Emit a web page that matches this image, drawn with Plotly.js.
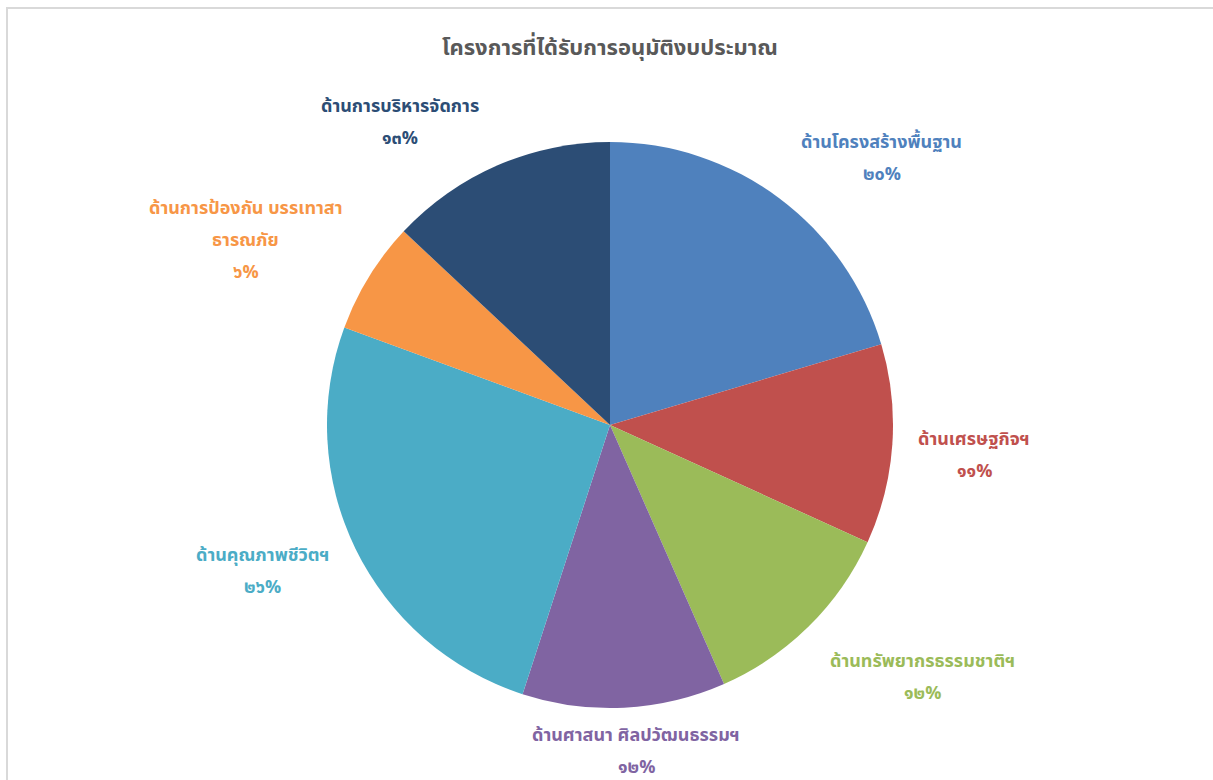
<!DOCTYPE html>
<html>
<head>
<meta charset="utf-8">
<script src="https://cdn.plot.ly/plotly-3.0.1.min.js"></script>
<style>
  html, body { margin: 0; padding: 0; background: #ffffff; overflow: hidden; }
  #frame { position: absolute; left: 6px; top: 7px; width: 1220px; height: 790px; border: 2px solid #d9d9d9; box-sizing: border-box; pointer-events: none; z-index: 2; }
  #chart { position: absolute; left: 0; top: 0; width: 1213px; height: 780px; }
</style>
</head>
<body>
<div id="chart"></div>
<div id="frame"></div>
<script>
// ---- data ----
const chartTitle = "โครงการที่ได้รับการอนุมัติงบประมาณ";
const categories = [
  "ด้านโครงสร้างพื้นฐาน",
  "ด้านเศรษฐกิจฯ",
  "ด้านทรัพยากรธรรมชาติฯ",
  "ด้านศาสนา ศิลปวัฒนธรรมฯ",
  "ด้านคุณภาพชีวิตฯ",
  "ด้านการป้องกัน บรรเทาสาธารณภัย",
  "ด้านการบริหารจัดการ"
];
// label lines as displayed (wrapped)
const labelLines = [
  ["ด้านโครงสร้างพื้นฐาน"],
  ["ด้านเศรษฐกิจฯ"],
  ["ด้านทรัพยากรธรรมชาติฯ"],
  ["ด้านศาสนา ศิลปวัฒนธรรมฯ"],
  ["ด้านคุณภาพชีวิตฯ"],
  ["ด้านการป้องกัน บรรเทาสา", "ธารณภัย"],
  ["ด้านการบริหารจัดการ"]
];
const shares = [20.4, 11.4, 11.6, 11.6, 25.6, 6.4, 13.0];

// ---- style ----
const colors = ["#4F81BD", "#C0504D", "#9BBB59", "#8064A2", "#4BACC6", "#F79646", "#2C4D75"];
const labelColors = ["#4F81BD", "#C0504D", "#9BBB59", "#8064A2", "#4BACC6", "#F79646", "#2C4D75"];
const labelNudge = [[52, 28], [-3, 5], [54, -9], [8, -41], [-17, -14], [-51, 9], [-64, 35]];
const FONT = "Tahoma, 'Leelawadee UI', 'Noto Sans Thai', 'Noto Sans', 'DejaVu Sans', sans-serif";

const W = 1213, H = 780;
const cx = 610, cy = 425, R = 283;
const labelK = 1.3, lineGap = 32;

function thaiDigits(n) {
  return String(n).replace(/\d/g, d => String.fromCharCode(0x0E50 + Number(d)));
}

const total = shares.reduce((a, b) => a + b, 0);
const annotations = [];
let cum = 0;
shares.forEach((v, i) => {
  const mid = (cum + v / 2) / total * 2 * Math.PI;
  cum += v;
  const px = cx + labelK * R * Math.sin(mid) + labelNudge[i][0];
  const py = cy - labelK * R * Math.cos(mid) + labelNudge[i][1];
  const lines = labelLines[i].concat([thaiDigits(Math.round(v / total * 100)) + "%"]);
  const n = lines.length;
  lines.forEach((t, j) => {
    const off = (j - (n - 1) / 2) * lineGap;
    annotations.push({
      xref: "paper", yref: "paper",
      x: px / W, y: 1 - (py + off) / H,
      xanchor: "center", yanchor: "middle",
      text: "<b>" + t + "</b>",
      showarrow: false,
      font: { family: FONT, size: 18, color: labelColors[i] }
    });
  });
});

const trace = {
  type: "pie",
  labels: categories,
  values: shares,
  sort: false,
  direction: "clockwise",
  rotation: 0,
  textinfo: "none",
  hoverinfo: "label+percent",
  marker: { colors: colors, line: { width: 0 } },
  domain: {
    x: [(cx - R) / W, (cx + R) / W],
    y: [(H - cy - R) / H, (H - cy + R) / H]
  },
  showlegend: false
};

const layout = {
  width: W, height: H,
  margin: { l: 0, r: 0, t: 0, b: 0 },
  paper_bgcolor: "#ffffff",
  title: {
    text: "<b>" + chartTitle + "</b>",
    font: { family: FONT, size: 22, color: "#595959" },
    x: 610 / W, xanchor: "center",
    y: 1 - 47 / H, yanchor: "middle", yref: "container"
  },
  annotations: annotations,
  showlegend: false
};

Plotly.newPlot("chart", [trace], layout, { displayModeBar: false, staticPlot: true });
</script>
</body>
</html>
